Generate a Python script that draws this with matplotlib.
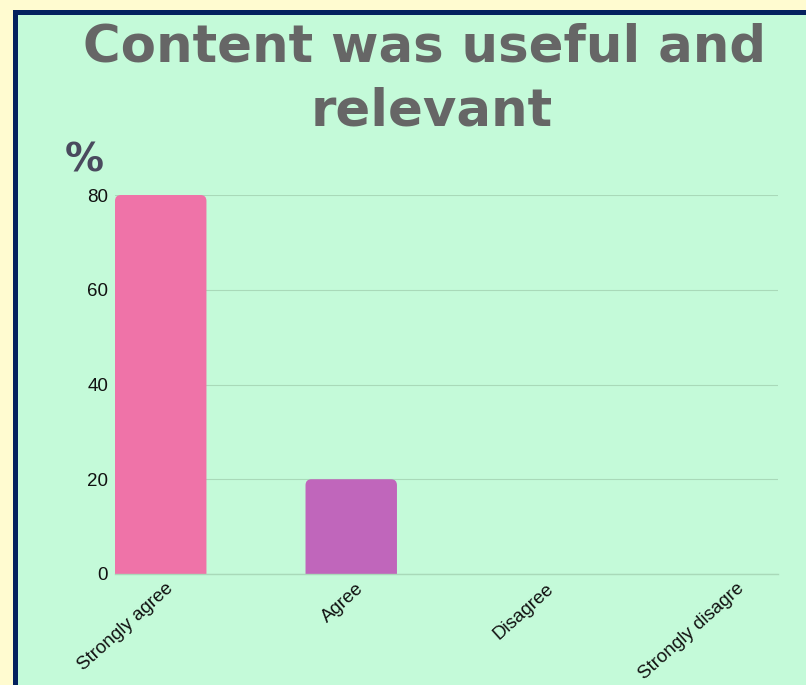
import matplotlib
matplotlib.use("Agg")
import matplotlib.pyplot as plt
from matplotlib.patches import Rectangle, FancyBboxPatch
import matplotlib.transforms as mtransforms

categories = ["Strongly agree", "Agree", "Disagree", "Strongly disagre"]
values = [80, 20, 0, 0]
bar_colors = ["#EF73A8", "#C066BB", "#4FC3F7", "#FFB74D"]
yticks = [0, 20, 40, 60, 80]
title_lines = ["Content was useful and", "relevant"]

W, H = 806, 685
fig = plt.figure(figsize=(W / 100, H / 100), dpi=100)
fig.patch.set_facecolor("#FFFBD0")

def fx(px):
    return px / W

def fy(py):
    return 1 - py / H

# navy border and mint panel
fig.patches.append(Rectangle((fx(13), 0), 1 - fx(13), fy(10), transform=fig.transFigure,
                             facecolor="#04215E", edgecolor="none", zorder=-2))
fig.patches.append(Rectangle((fx(18), 0), 1 - fx(18), fy(15), transform=fig.transFigure,
                             facecolor="#C4FAD9", edgecolor="none", zorder=-1))

fig.text(fx(425), fy(62), title_lines[0], ha="center", va="baseline", fontsize=37,
         fontweight="bold", color="#666666", family="DejaVu Sans")
fig.text(fx(432), fy(125), title_lines[1], ha="center", va="baseline", fontsize=37,
         fontweight="bold", color="#666666", family="DejaVu Sans")
fig.text(fx(65), fy(172), "%", ha="left", va="baseline", fontsize=28,
         fontweight="bold", color="#4A4A5E", family="DejaVu Sans")

ax = fig.add_axes([fx(115), fy(574), fx(778) - fx(115), fy(195) - fy(574)])
ax.set_facecolor("none")
ax.set_xlim(-0.24, 3.24)
ax.set_ylim(0, 80)

bw = 0.48
xpp = (3.24 + 0.24) / (778 - 115)
ypp = 80 / (574 - 195)
r = 6 * xpp
for i, (v, c) in enumerate(zip(values, bar_colors)):
    if v <= 0:
        continue
    p = FancyBboxPatch((i - bw / 2, -10), bw, v + 10,
                       boxstyle=f"round,pad=0,rounding_size={r}",
                       mutation_aspect=ypp / xpp,
                       facecolor=c, edgecolor="none", zorder=2)
    ax.add_patch(p)
    p.set_clip_path(ax.patch)

ax.set_yticks(yticks)
ax.set_yticklabels([str(t) for t in yticks], fontsize=13.5, family="Liberation Sans", color="#111111")
ax.yaxis.grid(True, color="#A9D9B9", linewidth=0.8)
ax.set_axisbelow(True)
ax.tick_params(axis="y", length=0, pad=5)
ax.tick_params(axis="x", length=0, pad=0)
ax.set_xticks(range(len(categories)))
ax.set_xticklabels(categories, rotation=42, ha="right", va="top", rotation_mode="anchor",
                   fontsize=13.5, family="Liberation Sans", color="#111111")
offset = mtransforms.ScaledTranslation(4 / 100, -6 / 100, fig.dpi_scale_trans)
for lab in ax.get_xticklabels():
    lab.set_transform(lab.get_transform() + offset)
for s in ["top", "right", "left"]:
    ax.spines[s].set_visible(False)
ax.spines["bottom"].set_color("#A9D9B9")
ax.spines["bottom"].set_linewidth(1.0)

fig.savefig("out.png", dpi=100, facecolor=fig.get_facecolor())
